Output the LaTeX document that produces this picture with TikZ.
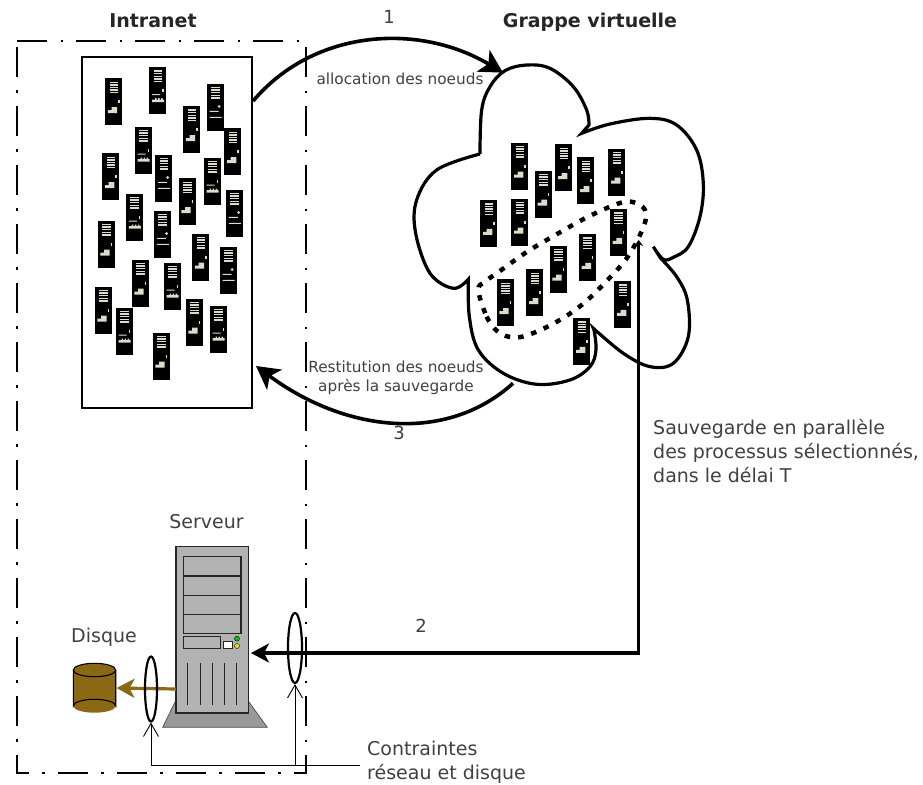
\documentclass[tikz,border=0pt]{standalone}
\usepackage{fontspec}
\setmainfont{DejaVu Sans}
\usetikzlibrary{arrows.meta,shapes.geometric}
\definecolor{srvcream}{HTML}{DDDCC8}
\definecolor{brownish}{HTML}{8B6914}
\definecolor{txt}{HTML}{404040}
\tikzset{
  bigarrow/.style={line width=3.6pt,-{Stealth[length=23pt,width=25pt,inset=6pt]}},
  thinarrow/.style={line width=.9pt,-{Straight Barb[length=13pt,width=15pt,line width=.9pt]}},
  lab/.style={text=txt,font=\fontsize{15.3}{19}\selectfont,align=center,inner sep=0pt},
  numlab/.style={text=txt,font=\fontsize{18}{22}\selectfont,inner sep=0pt},
  biglab/.style={text=txt,font=\fontsize{19}{24}\selectfont,align=left,inner sep=0pt},
  headlab/.style={text=black!85,font=\fontsize{19}{22}\selectfont\bfseries,inner sep=0pt},
  necked/.style={draw,ellipse,line width=2.2pt,inner sep=0pt},
  part/.style={draw=black!85,line width=1.2pt},
}
\newcommand{\srvicon}[3]{%
 \begin{scope}[shift={(#1-8.5,#2-23.5)}]
  \fill[black] (0,0) rectangle (17,47);
  \foreach \yy in {4,6.6,9.2,11.8,14.4}{\fill[srvcream] (4.5,\yy-.7) rectangle (13,\yy+.7);}
  \ifnum#3=1
   \fill[srvcream] (13,22) rectangle (14.5,25);
   \fill[srvcream] (2.8,32) rectangle (12.2,35) (6.5,29) rectangle (12.2,32);
  \fi
  \ifnum#3=2
   \fill[srvcream] (12.7,23) circle (1.5);
   \fill[srvcream] (3,27.3) rectangle (12,28.3) (3,33.4) rectangle (15,34.4);
  \fi
  \ifnum#3=3
   \fill[srvcream] (13,22) rectangle (14.5,25);
   \fill[srvcream] (3,27) rectangle (11,28) (3,32.5) rectangle (15,35) (6,31) rectangle (7.5,32.5) (9,31) rectangle (10.5,32.5) (12,31) rectangle (13.5,32.5);
  \fi
 \end{scope}}
\begin{document}
\begin{tikzpicture}[x=1pt,y=-1pt,line join=miter]
\useasboundingbox (0,0) rectangle (923,784);
\draw[line width=2.2pt,dash pattern=on 30pt off 13.5pt on 2.5pt off 13pt] (17,41) -- (306,41) -- (306,773) -- (17,773) -- cycle;
\node[draw,line width=2.2pt,minimum width=170pt,minimum height=351pt,inner sep=0pt] (pool) at (167,232.5) {};
\foreach \a/\b/\c in {113.5/101.7/1,157.7/90.5/3,215/107/2,191.5/129.5/1,232.7/151.7/1,143/150/3,110.7/176.7/1,163.5/178/2,212/181/3,187/201.7/1,234.3/213/2,134.3/217/3,162.3/234/2,106/244/1,200.5/257/1,228/270/2,140/283/1,172/286/3,103/310/1,124/331/3,194/322/1,218/329/3,161/356/1}{\srvicon{\a}{\b}{\c}}
\begin{scope}[shift={(410,50)},x=.3333pt,y=-.3333pt]
\draw[line width=3.2pt,line join=miter]
 plot[smooth,tension=.6] coordinates {(210,312)(215,180)(240,110)(285,62)(350,45)(420,55)(490,110)(530,180)(537,225)}
 -- (515,250)
 -- plot[smooth,tension=.6] coordinates {(515,250)(600,222)(720,205)(800,225)(860,300)(880,400)(870,500)(835,590)(790,622)(760,628)(730,590)}
 -- (752,625)
 -- plot[smooth,tension=.6] coordinates {(752,625)(800,680)(832,750)(835,860)(790,940)(720,950)(640,910)(550,835)}
 -- plot[smooth,tension=.6] coordinates {(552,840)(558,900)(540,950)(480,990)(380,1003)(280,970)(205,900)(178,800)(175,688)}
 -- plot[smooth,tension=.6] coordinates {(175,688)(130,715)(60,670)(17,550)(20,450)(80,360)(210,312)};
\coordinate (cloudin) at (279,68);
\coordinate (cloudout) at (309,1000);
\coordinate (cloudsave) at (686,570);
\draw[line width=4.5pt,dash pattern=on 5.5pt off 8pt]
 plot[smooth cycle,tension=.6] coordinates {(205,720)(230,800)(260,842)(295,860)(345,858)(432,820)(515,765)(590,693)(655,618)(702,527)(705,480)(672,457)(627,460)(535,500)(445,550)(352,605)(267,665)(225,695)};
\end{scope}
\foreach \a/\b in {519.7/166,563.7/167.7,585.7/180.7,616.7/172,543.3/194,488.7/223.3,519.7/222,618.3/232.3,587.3/257.3,558/269,534.7/292.7,505/302.7,622.7/304.3,581.7/341.3}{\srvicon{\a}{\b}{1}}
\fill[black!40] (175,702) -- (249,702) -- (267.3,727.3) -- (162.7,727.3) -- cycle;
\draw[black!70,line width=.7pt] (175,702) -- (162.7,727.3) -- (267.3,727.3) -- (249,702);
\node[draw=black!85,fill=black!30,line width=1.2pt,minimum width=72.7pt,minimum height=166.3pt,inner sep=0pt] (tower) at (212.3,629.8) {};
\foreach \u/\v in {556.7/576,576/595.3,595.3/614.7,614.7/633.3}{\draw[part] (183.3,\u) rectangle (241,\v);}
\draw[part] (183.3,636.7) rectangle (220.3,648.3);
\draw[part,fill=white,line width=.8pt] (223,641) rectangle (232.3,648.3);
\draw[fill=green!80!black,line width=.4pt] (237,638.7) circle (2.5);
\draw[fill=yellow!90!black,line width=.4pt] (237,646) circle (2.5);
\foreach \u in {187.7,200.7,212.7,224.3,236.3}{\draw[part] (\u,662.7) -- (\u,705);}
\fill[brownish] (73.3,670) rectangle (115.7,706);
\fill[brownish] (94.5,706) ellipse[x radius=21.2pt,y radius=6.7pt];
\draw[line width=1.1pt] (73.3,670) -- (73.3,706) arc[start angle=180,end angle=360,x radius=21.2pt,y radius=-6.7pt] -- (115.7,670);
\node[draw,ellipse,line width=1.1pt,fill=brownish,minimum width=42.4pt,minimum height=13.4pt,inner sep=0pt] (disk) at (94.5,670) {};
\coordinate (diskin) at (116.5,688);
\coordinate (towerout) at (176,689);
\draw[brownish,line width=3.2pt,-{Stealth[length=18pt,width=19pt,inset=5pt]}] (towerout) -- (diskin);
\coordinate (poolout) at (pool.east |- 0,101);
\coordinate (poolin) at (256,366);
\draw[bigarrow] (poolout) .. controls (315,28) and (420,23) .. (cloudin);
\draw[bigarrow] (cloudout) .. controls (446,444) and (345,432) .. (poolin);
\coordinate (towerin) at (251,653);
\coordinate (savecorner) at (640,653);
\draw[line width=3.6pt,{Stealth[length=6pt,width=9pt,inset=2pt]}-{Stealth[length=18pt,width=19pt,inset=5pt]}] (cloudsave) -- (cloudsave |- savecorner) -- (towerin);
\node[necked,minimum width=12pt,minimum height=65pt] (neckdisk) at (151,689) {};
\node[necked,minimum width=14pt,minimum height=70pt] (necknet) at (295,648) {};
\coordinate (jun) at (295,765);
\coordinate (labend) at (360,765);
\coordinate (junb) at (151,765);
\draw[thinarrow] (labend) -- (jun) -- (junb) -- (neckdisk.south);
\draw[thinarrow] (jun) -- (necknet.south);
\node[headlab] (t1) at (153,20.5) {Intranet};
\node[headlab] (t2) at (590,22) {Grappe virtuelle};
\node[numlab] (n1) at (389,17) {1};
\node[numlab] (n3) at (399,433) {3};
\node[numlab] (n2) at (421,626) {2};
\node[lab] (l1) at (400,79) {allocation des noeuds};
\node[lab] (l3) at (396,378) {Restitution des noeuds\\après la sauvegarde};
\node[biglab,anchor=north west] (l2) at (653,419) {Sauvegarde en parallèle\\des processus sélectionnés,\\dans le délai T};
\node[biglab] (srv) at (206.5,522) {Serveur};
\node[biglab] (dsk) at (104,637) {Disque};
\node[biglab,anchor=west] (ctr) at (367,762) {Contraintes\\réseau et disque};
\end{tikzpicture}
\end{document}
